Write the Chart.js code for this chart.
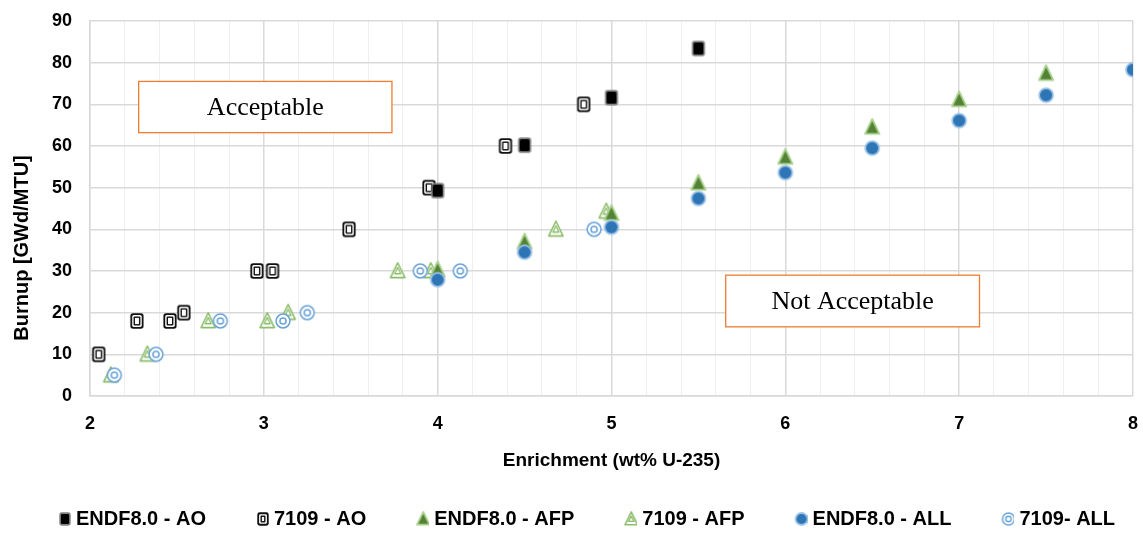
<!DOCTYPE html>
<html>
<head>
<meta charset="utf-8">
<script src="https://cdn.jsdelivr.net/npm/chart.js@4.4.1/dist/chart.umd.min.js"></script>
<style>
html, body { margin: 0; padding: 0; background: #fff; }
</style>
</head>
<body>
<canvas id="grafica" width="1143" height="534"></canvas>
<script>
// Nombres de las series (leyenda)
const nombres = ['ENDF8.0 - AO', '7109 - AO', 'ENDF8.0 - AFP', '7109 - AFP', 'ENDF8.0 - ALL', '7109- ALL'];

// Enriquecimiento (x) y quemado (y) de cada serie
const endfAO_x = [4.0, 4.5, 5.0, 5.5];
const endfAO_y = [49.3, 60.2, 71.6, 83.4];
const r7109AO_x = [2.05, 2.27, 2.46, 2.54, 2.96, 3.05, 3.49, 3.95, 4.39, 4.84];
const r7109AO_y = [10, 18, 18, 20, 30, 30, 40, 50, 60, 70];
const endfAFP_x = [4.0, 4.5, 5.0, 5.5, 6.0, 6.5, 7.0, 7.5];
const endfAFP_y = [30.3, 37.0, 43.8, 51.1, 57.3, 64.5, 71.1, 77.4];
const r7109AFP_x = [2.12, 2.33, 2.68, 3.02, 3.14, 3.77, 3.96, 4.68, 4.97];
const r7109AFP_y = [5, 10, 18, 18, 20, 30, 30, 40, 44.3];
const endfALL_x = [4.0, 4.5, 5.0, 5.5, 6.0, 6.5, 7.0, 7.5, 8.0];
const endfALL_y = [27.9, 34.5, 40.5, 47.4, 53.6, 59.5, 66.1, 72.2, 78.3];
const r7109ALL_x = [2.14, 2.38, 2.75, 3.11, 3.25, 3.90, 4.13, 4.90];
const r7109ALL_y = [5, 10, 18, 18, 20, 30, 30, 40];

// Ejes
const xTicks = [2, 3, 4, 5, 6, 7, 8];
const yTicks = [0, 10, 20, 30, 40, 50, 60, 70, 80, 90];

function puntos(xs, ys) {
    return xs.map((x, i) => ({ x: x, y: ys[i] }));
}

// Dibuja un marcador estilo Excel en un canvas pequeño
function marcador(tipo, s, ancho, cx) {
    const c = document.createElement('canvas');
    c.width = ancho || 20;
    c.height = 20;
    const g = c.getContext('2d');
    cx = cx === undefined ? c.width / 2 : cx;
    const cy = 10;
    g.lineJoin = 'round';
    function caja(w, h, col, r) {
        g.fillStyle = col;
        g.beginPath();
        g.roundRect(cx - w / 2, cy - h / 2, w, h, r);
        g.fill();
    }
    function tri(k) {
        g.beginPath();
        g.moveTo(cx, cy - 7.5 * k);
        g.lineTo(cx + 6.5 * k, cy + 6 * k);
        g.lineTo(cx - 6.5 * k, cy + 6 * k);
        g.closePath();
    }
    if (tipo === 'sqFill') {
        caja(12 * s, 14 * s, '#808080', 2.5 * s);
        caja(12 * s - 3.2, 14 * s - 3.2, '#000', 1.5 * s);
    } else if (tipo === 'sqOpen') {
        caja(12 * s, 14 * s, '#111', 2.5 * s);
        caja(12 * s - 3.6, 14 * s - 3.6, '#fff', 1.5 * s);
        caja(12 * s - 6.4, 14 * s - 6.4, '#111', 1);
        caja(12 * s - 9.2, 14 * s - 9.2, '#fff', 0);
    } else if (tipo === 'triFill') {
        tri(s);
        g.fillStyle = '#548235';
        g.fill();
        g.strokeStyle = '#a9d18e';
        g.lineWidth = 1.8;
        g.stroke();
    } else if (tipo === 'triOpen') {
        tri(s);
        g.fillStyle = '#fff';
        g.fill();
        g.strokeStyle = '#8cbd6b';
        g.lineWidth = 1.6;
        g.stroke();
        tri(s * 0.42);
        g.lineWidth = 1.3;
        g.stroke();
    } else if (tipo === 'cirFill') {
        g.beginPath();
        g.arc(cx, cy, 6.3 * s, 0, Math.PI * 2);
        g.fillStyle = '#2e75b6';
        g.fill();
        g.strokeStyle = '#9dc3e6';
        g.lineWidth = 1.8;
        g.stroke();
    } else if (tipo === 'cirOpen') {
        g.beginPath();
        g.arc(cx, cy, 6.3 * s, 0, Math.PI * 2);
        g.fillStyle = '#fff';
        g.fill();
        g.strokeStyle = '#6aa3d8';
        g.lineWidth = 1.5;
        g.stroke();
        g.beginPath();
        g.arc(cx, cy, 2.8 * s, 0, Math.PI * 2);
        g.stroke();
    }
    return c;
}

const tipos = ['sqFill', 'sqOpen', 'triFill', 'triOpen', 'cirFill', 'cirOpen'];
const series = [
    puntos(endfAO_x, endfAO_y),
    puntos(r7109AO_x, r7109AO_y),
    puntos(endfAFP_x, endfAFP_y),
    puntos(r7109AFP_x, r7109AFP_y),
    puntos(endfALL_x, endfALL_y),
    puntos(r7109ALL_x, r7109ALL_y)
];
// orden de dibujo: ENDF encima de 7109, ALL encima de todo
const ordenDibujo = [3, 6, 2, 5, 1, 4];

const CAJA_LEYENDA = 48;
const marcadoresLeyenda = tipos.map(t => marcador(t, 0.95, CAJA_LEYENDA + 10, CAJA_LEYENDA + 4));

// Cuadros de texto "Acceptable" / "Not Acceptable" (en coordenadas de datos)
const cuadrosTexto = {
    id: 'cuadrosTexto',
    beforeDatasetsDraw(chart) {
        const { ctx, scales: { x, y } } = chart;
        const cuadros = [
            { texto: 'Acceptable', x0: 2.28, x1: 3.737, y0: 63.2, y1: 75.5 },
            { texto: 'Not Acceptable', x0: 5.657, x1: 7.117, y0: 16.6, y1: 29.0 }
        ];
        ctx.save();
        cuadros.forEach(c => {
            const l = x.getPixelForValue(c.x0), r = x.getPixelForValue(c.x1);
            const t = y.getPixelForValue(c.y1), b = y.getPixelForValue(c.y0);
            ctx.fillStyle = '#fff';
            ctx.fillRect(l, t, r - l, b - t);
            ctx.strokeStyle = '#ed7d31';
            ctx.lineWidth = 1.3;
            ctx.strokeRect(l, t, r - l, b - t);
            ctx.fillStyle = '#000';
            ctx.font = '26px "Liberation Serif", "Times New Roman", serif';
            ctx.textAlign = 'center';
            ctx.textBaseline = 'middle';
            ctx.fillText(c.texto, (l + r) / 2, (t + b) / 2 + 1);
        });
        ctx.restore();
    },
    afterDraw(chart) {
        // titulo del eje Y, algo desplazado hacia abajo como en el original
        const ctx = chart.ctx;
        ctx.save();
        ctx.translate(22, 248);
        ctx.rotate(-Math.PI / 2);
        ctx.font = 'bold 20px "Liberation Sans", Arial, sans-serif';
        ctx.fillStyle = '#000';
        ctx.textAlign = 'center';
        ctx.textBaseline = 'middle';
        ctx.fillText('Burnup [GWd/MTU]', 0, 0);
        ctx.restore();
    }
};

const fuenteEje = { family: '"Liberation Sans", Arial, sans-serif', weight: 'bold', size: 18 };
const esEntero = v => Math.abs(v - Math.round(v)) < 1e-6;
const sinColor = 'rgba(0,0,0,0)';

new Chart(document.getElementById('grafica').getContext('2d'), {
    type: 'scatter',
    data: {
        datasets: series.map((d, i) => ({
            label: nombres[i],
            data: d,
            pointStyle: marcador(tipos[i], 1.1),
            pointRadius: 7,
            pointHoverRadius: 7,
            order: ordenDibujo[i]
        }))
    },
    options: {
        responsive: false,
        animation: false,
        layout: { padding: { top: 21, left: 0, right: 10, bottom: -5 } },
        plugins: {
            tooltip: { enabled: false },
            legend: {
                position: 'bottom',
                labels: {
                    usePointStyle: true,
                    pointStyleWidth: CAJA_LEYENDA,
                    boxHeight: 20,
                    padding: 10,
                    color: '#000',
                    font: { family: '"Liberation Sans", Arial, sans-serif', weight: 'bold', size: 20 },
                    sort: (a, b) => a.datasetIndex - b.datasetIndex,
                    generateLabels(chart) {
                        const base = Chart.defaults.plugins.legend.labels.generateLabels(chart);
                        base.forEach(it => { it.pointStyle = marcadoresLeyenda[it.datasetIndex]; });
                        return base;
                    }
                }
            }
        },
        scales: {
            x: {
                type: 'linear',
                min: xTicks[0],
                max: xTicks[xTicks.length - 1],
                afterFit(s) { s.height = 103; },
                ticks: {
                    stepSize: 0.2,
                    autoSkip: false,
                    maxRotation: 0,
                    padding: 0,
                    color: '#000',
                    font: fuenteEje,
                    callback: v => (esEntero(v) && xTicks.includes(Math.round(v))) ? String(Math.round(v)) : ''
                },
                grid: {
                    drawTicks: true,
                    tickLength: 17,
                    tickColor: sinColor,
                    color: c => esEntero(c.tick.value) ? '#d9d9d9' : '#efefef',
                    lineWidth: c => esEntero(c.tick.value) ? 1.5 : 1
                },
                border: { color: '#d9d9d9', width: 1.5 },
                title: {
                    display: true,
                    text: 'Enrichment (wt% U-235)',
                    color: '#000',
                    font: { family: '"Liberation Sans", Arial, sans-serif', weight: 'bold', size: 19 },
                    padding: { top: 0, bottom: 27 }
                }
            },
            y: {
                min: yTicks[0],
                max: yTicks[yTicks.length - 1],
                afterFit(s) { s.width = 90; },
                ticks: {
                    stepSize: 10,
                    padding: 0,
                    color: '#000',
                    font: fuenteEje,
                    callback: v => yTicks.includes(v) ? String(v) : ''
                },
                grid: { drawTicks: true, tickLength: 18, tickColor: sinColor, color: '#d9d9d9', lineWidth: 1.5 },
                border: { color: '#d9d9d9', width: 1.5 }
            }
        }
    },
    plugins: [cuadrosTexto]
});
</script>
</body>
</html>
